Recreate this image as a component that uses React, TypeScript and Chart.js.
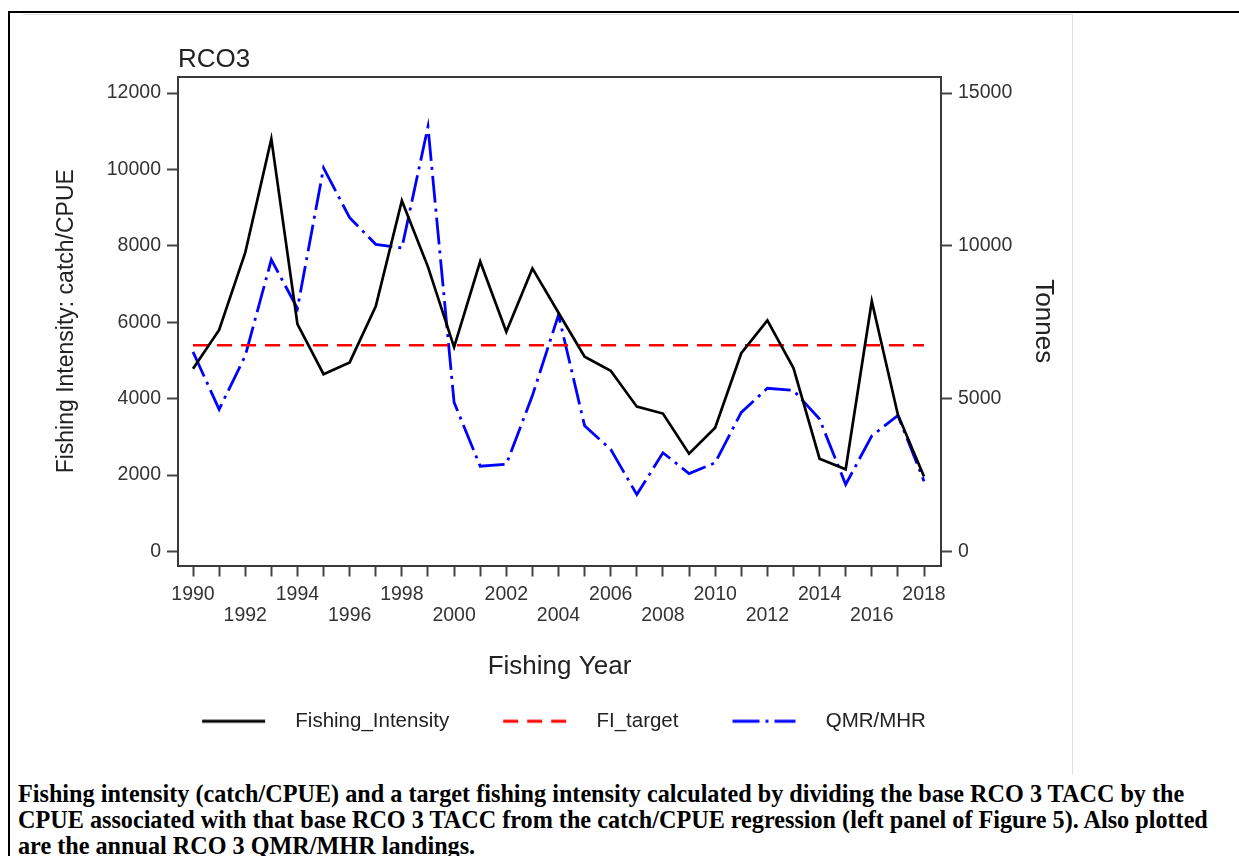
import React, { useEffect, useRef } from "react";
import { Chart, registerables } from "chart.js";

Chart.register(...registerables);

// Fishing years on the x axis
const YEARS = [
  1990, 1991, 1992, 1993, 1994, 1995, 1996, 1997, 1998, 1999,
  2000, 2001, 2002, 2003, 2004, 2005, 2006, 2007, 2008, 2009,
  2010, 2011, 2012, 2013, 2014, 2015, 2016, 2017, 2018,
];

// Fishing intensity (catch/CPUE), left axis
const FISHING_INTENSITY = [
  4780, 5800, 7820, 10800, 5950, 4640, 4950, 6420, 9180, 7450,
  5350, 7590, 5750, 7410, 6250, 5100, 4730, 3790, 3610, 2560,
  3240, 5190, 6050, 4800, 2430, 2150, 6550, 3580, 1960,
];

// Target fishing intensity, left axis
const FI_TARGET = 5400;

// Annual QMR/MHR landings (tonnes), right axis
const QMR_MHR = [
  6530, 4650, 6400, 9550, 7950, 12550, 10920, 10050, 9930, 13900,
  4880, 2790, 2850, 5100, 7740, 4110, 3340, 1860, 3230, 2550,
  2900, 4550, 5340, 5270, 4330, 2190, 3780, 4450, 2300,
];

const LEFT_TICKS = [0, 2000, 4000, 6000, 8000, 10000, 12000];
const RIGHT_TICKS = [0, 5000, 10000, 15000];

const FONT = "'Liberation Sans', Arial, Helvetica, sans-serif";
const AXIS_COLOR = "#3a3a3a";
const TEXT_COLOR = "#222";
const TICK_TEXT = "#333";

const SAMPLE_LEAD = 44;
const SAMPLE_LINE = 63;
const SAMPLE_TAIL = 20;
const SAMPLE_W = SAMPLE_LEAD + SAMPLE_LINE + SAMPLE_TAIL;

function makeSample(color: string, width: number, dash: number[]) {
  const c = document.createElement("canvas");
  c.width = SAMPLE_W;
  c.height = 8;
  const g = c.getContext("2d")!;
  g.strokeStyle = color;
  g.lineWidth = width;
  g.setLineDash(dash);
  g.beginPath();
  g.moveTo(SAMPLE_LEAD, 4);
  g.lineTo(SAMPLE_LEAD + SAMPLE_LINE, 4);
  g.stroke();
  return c;
}

// closes the plot box along its top edge
const frameTop = {
  id: "frameTop",
  afterDraw(chart: any) {
    const { ctx, chartArea } = chart;
    ctx.save();
    ctx.strokeStyle = AXIS_COLOR;
    ctx.lineWidth = 2;
    ctx.beginPath();
    ctx.moveTo(chartArea.left - 1, chartArea.top);
    ctx.lineTo(chartArea.right + 1, chartArea.top);
    ctx.stroke();
    ctx.restore();
  },
};

const tickGrid = {
  display: true,
  drawOnChartArea: false,
  drawTicks: true,
  tickLength: 11,
  tickColor: "#444",
  tickWidth: 2,
};

export default function App() {
  const ref = useRef<HTMLCanvasElement>(null);

  useEffect(() => {
    const canvas = ref.current!;
    const samples = [
      makeSample("#000", 3, []),
      makeSample("#ff0000", 3, [15, 9]),
      makeSample("#0000ff", 3, [27, 6, 3, 6]),
    ];

    const chart = new Chart(canvas, {
      type: "line",
      data: {
        datasets: [
          {
            label: "Fishing_Intensity",
            data: YEARS.map((y, i) => ({ x: y, y: FISHING_INTENSITY[i] })),
            borderColor: "#000",
            borderWidth: 2.7,
            pointRadius: 0,
            tension: 0,
            yAxisID: "y",
          },
          {
            label: "FI_target",
            data: [
              { x: YEARS[0], y: FI_TARGET },
              { x: YEARS[YEARS.length - 1], y: FI_TARGET },
            ],
            borderColor: "#ff0000",
            borderWidth: 2.6,
            borderDash: [15, 9],
            pointRadius: 0,
            yAxisID: "y",
          },
          {
            label: "QMR/MHR",
            data: YEARS.map((y, i) => ({ x: y, y: QMR_MHR[i] })),
            borderColor: "#0000ff",
            borderWidth: 2.8,
            borderDash: [27, 6, 3, 6],
            pointRadius: 0,
            tension: 0,
            yAxisID: "y2",
          },
        ],
      },
      options: {
        animation: false,
        responsive: false,
        devicePixelRatio: 1,
        layout: { padding: { left: 25, right: 180, top: 30, bottom: 38.5 } },
        font: { family: FONT },
        scales: {
          x: {
            type: "linear",
            position: "bottom",
            min: 1989.425,
            max: 2018.651,
            afterFit: (s: any) => {
              s.height = 135.5;
            },
            afterBuildTicks: (s: any) => {
              s.ticks = YEARS.map((v) => ({ value: v }));
            },
            ticks: {
              autoSkip: false,
              maxRotation: 0,
              minRotation: 0,
              padding: 8,
              color: TICK_TEXT,
              font: { family: FONT, size: 19.5, lineHeight: 21 / 19.5 },
              callback: (v: any) => {
                const n = Number(v);
                if (n % 2 !== 0) return "";
                return ((n - 1990) / 2) % 2 === 0 ? String(n) : ["", String(n)];
              },
            },
            grid: tickGrid,
            border: { display: true, color: AXIS_COLOR, width: 2 },
            title: {
              display: true,
              text: "Fishing Year",
              color: TEXT_COLOR,
              font: { family: FONT, size: 26, lineHeight: 1.2 },
              padding: { top: 0, bottom: 18.9 },
            },
          },
          y: {
            type: "linear",
            position: "left",
            min: -368,
            max: 12421,
            afterFit: (s: any) => {
              s.width = 153;
            },
            afterBuildTicks: (s: any) => {
              s.ticks = LEFT_TICKS.map((v) => ({ value: v }));
            },
            ticks: {
              padding: 6,
              color: TICK_TEXT,
              font: { family: FONT, size: 19.5 },
              callback: (v: any) => String(v),
            },
            grid: tickGrid,
            border: { display: true, color: AXIS_COLOR, width: 2 },
            title: {
              display: true,
              text: "Fishing Intensity: catch/CPUE",
              color: TEXT_COLOR,
              font: { family: FONT, size: 23, lineHeight: 1.2 },
              padding: { top: 28.2, bottom: 0 },
            },
          },
          y2: {
            type: "linear",
            position: "right",
            min: -460,
            max: 15526,
            afterFit: (s: any) => {
              s.width = 118;
            },
            afterBuildTicks: (s: any) => {
              s.ticks = RIGHT_TICKS.map((v) => ({ value: v }));
            },
            ticks: {
              padding: 6,
              color: TICK_TEXT,
              font: { family: FONT, size: 19.5 },
              callback: (v: any) => String(v),
            },
            grid: tickGrid,
            border: { display: true, color: AXIS_COLOR, width: 2 },
            title: {
              display: true,
              text: "Tonnes",
              color: TEXT_COLOR,
              font: { family: FONT, size: 26, lineHeight: 1.2 },
              padding: { top: 0.4, bottom: 0 },
            },
          },
        },
        plugins: {
          title: {
            display: true,
            text: "RCO3",
            align: "start",
            fullSize: false,
            color: TEXT_COLOR,
            font: { family: FONT, size: 26, weight: "normal", lineHeight: 1.2 },
            padding: { top: 14.4, bottom: 1.4 },
          },
          legend: {
            display: true,
            position: "bottom",
            labels: {
              usePointStyle: true,
              pointStyleWidth: SAMPLE_W,
              padding: 10,
              color: TEXT_COLOR,
              font: { family: FONT, size: 20.5 },
              generateLabels: (c: any) =>
                Chart.defaults.plugins.legend.labels
                  .generateLabels(c)
                  .map((item: any, i: number) => ({ ...item, pointStyle: samples[i] })),
            },
          },
          tooltip: { enabled: false },
        },
      } as any,
      plugins: [frameTop],
    });

    return () => chart.destroy();
  }, []);

  return (
    <div
      style={{
        position: "fixed",
        left: 0,
        top: 0,
        width: 1239,
        height: 856,
        background: "#fff",
        overflow: "hidden",
      }}
    >
      <canvas
        ref={ref}
        width={1239}
        height={780}
        style={{ position: "absolute", left: 0, top: 0, width: 1239, height: 780 }}
      />
      {/* outer page frame */}
      <div style={{ position: "absolute", left: 8, top: 11, width: 1231, height: 2, background: "#000" }} />
      <div style={{ position: "absolute", left: 8, top: 11, width: 2, height: 845, background: "#000" }} />
      {/* inner figure frame */}
      <div style={{ position: "absolute", left: 23, top: 14, width: 1050, height: 1, background: "#e2e2e2" }} />
      <div style={{ position: "absolute", left: 1072, top: 14, width: 1, height: 761, background: "#e2e2e2" }} />
      <div
        style={{
          position: "absolute",
          left: 18,
          top: 781,
          fontFamily: "'Liberation Serif', 'Times New Roman', serif",
          fontWeight: "bold",
          fontSize: 24.2,
          lineHeight: "26px",
          color: "#000",
          whiteSpace: "nowrap",
        }}
      >
        Fishing intensity (catch/CPUE) and a target fishing intensity calculated by dividing the base RCO 3 TACC by the
        <br />
        CPUE associated with that base RCO 3 TACC from the catch/CPUE regression (left panel of Figure 5). Also plotted
        <br />
        are the annual RCO 3 QMR/MHR landings.
      </div>
    </div>
  );
}
